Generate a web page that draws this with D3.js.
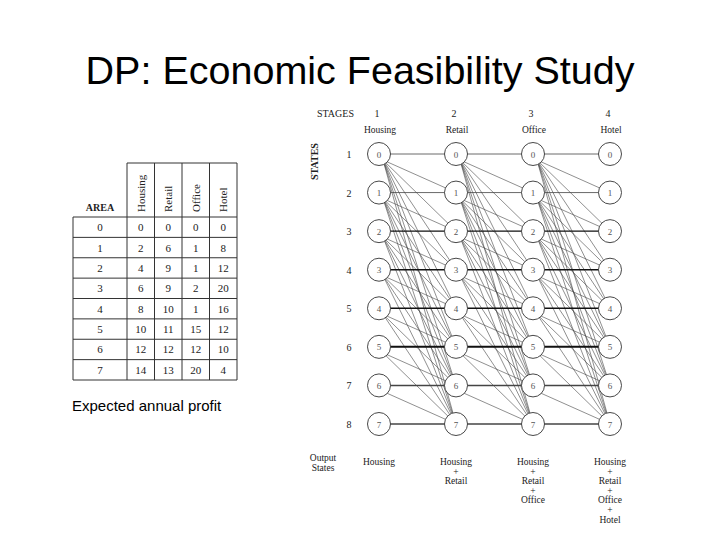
<!DOCTYPE html>
<html><head><meta charset="utf-8">
<script src="https://cdn.jsdelivr.net/npm/d3@7"></script>
<style>body{margin:0;background:#fff}</style></head>
<body><script>
const areas = [0, 1, 2, 3, 4, 5, 6, 7];
const uses = ["Housing", "Retail", "Office", "Hotel"];
const profit = [
  [0, 0, 0, 0], [2, 6, 1, 8], [4, 9, 1, 12], [6, 9, 2, 20],
  [8, 10, 1, 16], [10, 11, 15, 12], [12, 12, 12, 10], [14, 13, 20, 4]
];
const stages = [1, 2, 3, 4];
const states = [1, 2, 3, 4, 5, 6, 7, 8];
const outputs = [["Housing"], ["Housing", "+", "Retail"], ["Housing", "+", "Retail", "+", "Office"],
  ["Housing", "+", "Retail", "+", "Office", "+", "Hotel"]];

const svg = d3.select("body").append("svg").attr("width", 720).attr("height", 540);

svg.append("text").attr("x", 360).attr("y", 84).attr("text-anchor", "middle")
  .attr("font-family", "Liberation Sans, Arial").attr("font-size", 39.5).text("DP: Economic Feasibility Study");
svg.append("text").attr("x", 72).attr("y", 411)
  .attr("font-family", "Liberation Sans, Arial").attr("font-size", 15).text("Expected annual profit");

// table: AREA column then one narrow column per use
const serif = "Liberation Serif, Times New Roman";
const tx = d3.scaleBand().domain(uses).range([127, 237]);
const ty = d3.scaleBand().domain(areas).range([217, 380]);
const tab = svg.append("g").attr("font-family", serif).attr("font-size", 11).attr("fill", "#222");
const line = (x1, y1, x2, y2) => tab.append("line").attr("x1", x1).attr("y1", y1).attr("x2", x2).attr("y2", y2)
  .attr("stroke", "#333").attr("stroke-width", 1);
uses.forEach(u => {
  line(tx(u), 163, tx(u), 380);
  tab.append("text").attr("transform", `translate(${tx(u) + tx.bandwidth() / 2 + 4},212) rotate(-90)`)
    .text(u);
});
line(237, 163, 237, 380);
line(127, 163, 237, 163);
line(73, 217, 73, 380);
areas.forEach(a => line(73, ty(a), 237, ty(a)));
line(73, 380, 237, 380);
tab.append("text").attr("x", 100).attr("y", 211).attr("text-anchor", "middle").attr("font-weight", "bold").attr("font-size", 10).text("AREA");
areas.forEach(a => {
  const y = ty(a) + ty.bandwidth() / 2 + 4;
  tab.append("text").attr("x", 100).attr("y", y).attr("text-anchor", "middle").text(a);
  uses.forEach((u, j) => tab.append("text").attr("x", tx(u) + tx.bandwidth() / 2).attr("y", y)
    .attr("text-anchor", "middle").text(profit[a][j]));
});

// network
const nx = d3.scalePoint().domain(stages).range([379, 610]);
const ny = d3.scalePoint().domain(states).range([154, 424]);
const net = svg.append("g").attr("font-family", serif).attr("fill", "#222");
const edges = [];
stages.slice(0, -1).forEach(s => states.forEach(i => states.forEach(j => {
  if (j >= i) edges.push({ s, i, j });
})));
net.selectAll("line.e").data(edges).join("line")
  .attr("x1", d => nx(d.s) + (d.j === d.i ? 0 : 4)).attr("y1", d => ny(d.i) + (d.j === d.i ? 0 : 6))
  .attr("x2", d => nx(d.s + 1)).attr("y2", d => ny(d.j))
  .attr("stroke", d => d.j === d.i && d.i >= 3 && d.i <= 6 ? "#111" : "#444")
  .attr("stroke-width", d => d.j === d.i ? (d.i === 6 ? 2 : d.i >= 3 ? 1.4 : 0.8) : 0.6);
const nodes = [];
stages.forEach(s => states.forEach(i => nodes.push({ s, i })));
net.selectAll("circle").data(nodes).join("circle")
  .attr("cx", d => nx(d.s)).attr("cy", d => ny(d.i)).attr("r", 11.5)
  .attr("fill", "#fff").attr("stroke", "#333").attr("stroke-width", 0.9);
net.selectAll("text.n").data(nodes).join("text")
  .attr("x", d => nx(d.s)).attr("y", d => ny(d.i) + 3.5).attr("text-anchor", "middle")
  .attr("font-size", 9).attr("fill", "#555").text(d => d.i - 1);
states.forEach(i => net.append("text").attr("x", 349).attr("y", ny(i) + 4).attr("text-anchor", "middle")
  .attr("font-size", 10).text(i));
net.append("text").attr("x", 317).attr("y", 117).attr("font-size", 10).text("STAGES");
net.append("text").attr("transform", "translate(318,180) rotate(-90)").attr("font-size", 10).attr("font-weight", "bold").text("STATES");
stages.forEach((s, k) => {
  net.append("text").attr("x", nx(s) - 2).attr("y", 117).attr("text-anchor", "middle").attr("font-size", 10).text(s);
  net.append("text").attr("x", nx(s) + 1).attr("y", 133).attr("text-anchor", "middle").attr("font-size", 9.5).text(uses[k]);
  outputs[k].forEach((t, m) => net.append("text").attr("x", nx(s)).attr("y", 465 + m * 9.6)
    .attr("text-anchor", "middle").attr("font-size", 9.5).text(t));
});
net.append("text").attr("x", 323).attr("y", 461).attr("text-anchor", "middle").attr("font-size", 9.5).text("Output");
net.append("text").attr("x", 323).attr("y", 471).attr("text-anchor", "middle").attr("font-size", 9.5).text("States");
</script></body></html>
